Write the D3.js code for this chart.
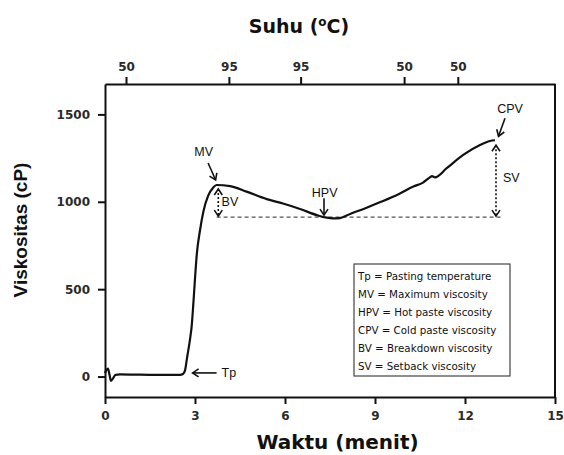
<!DOCTYPE html>
<html>
<head>
<meta charset="utf-8">
<script src="https://cdn.jsdelivr.net/npm/d3@7"></script>
<style>
  body { margin: 0; background: #fff; }
  svg { display: block; }
</style>
</head>
<body>
<div id="chart"></div>
<script>
// pasting curve: time (menit) and viscosity (cP)
let times = [0, 0.05, 0.1, 0.15, 0.2, 0.27, 0.35, 0.5, 1.0, 1.5, 2.0, 2.5, 2.6, 2.67, 2.74, 2.83, 2.89, 2.95, 3.0, 3.06, 3.17, 3.28, 3.44, 3.61, 3.72, 4.17, 4.72, 5.39, 5.93, 6.5, 7.06, 7.39, 7.6, 7.83, 8.17, 8.7, 9.2, 9.8, 10.28, 10.6, 10.83, 10.9, 11.0, 11.39, 11.94, 12.5, 12.83, 13.0];
let viscosity = [20, 38, 45, 10, -25, -10, 10, 12, 11, 10, 10, 10, 15, 37, 113, 209, 290, 430, 560, 700, 840, 945, 1035, 1082, 1096, 1090, 1058, 1015, 990, 959, 924, 909, 905, 907, 930, 965, 1000, 1045, 1087, 1110, 1140, 1147, 1140, 1192, 1268, 1325, 1348, 1352];

let xTicks = [0, 3, 6, 9, 12, 15];
let yTicks = [0, 500, 1000, 1500];
let tempTickTimes = [0.7, 4.13, 6.52, 9.97, 11.76];
let tempTickLabels = ["50", "95", "95", "50", "50"];

// key points: [time, viscosity]
let tp = [2.62, 15];
let mv = [3.72, 1096];
let hpv = [7.3, 912];
let cpv = [13.0, 1352];

let legendLines = [
    "Tp = Pasting temperature",
    "MV = Maximum viscosity",
    "HPV = Hot paste viscosity",
    "CPV = Cold paste viscosity",
    "BV = Breakdown viscosity",
    "SV = Setback viscosity"
];

let width = 564,
    height = 455;

let svg = d3.select("#chart")
    .append("svg")
    .attr("width", width)
    .attr("height", height);

let x = d3.scaleLinear().domain([0, 15]).range([105, 555]);
let y = d3.scaleLinear().domain([-117, 1674]).range([397, 84]);

let defs = svg.append("defs");
defs.append("marker")
    .attr("id", "head")
    .attr("viewBox", "-8 -5 10 10")
    .attr("refX", 0).attr("refY", 0)
    .attr("markerWidth", 10).attr("markerHeight", 10)
    .attr("markerUnits", "userSpaceOnUse")
    .attr("orient", "auto-start-reverse")
    .append("path")
    .attr("d", "M-6,-4 L0,0 L-6,4")
    .style("fill", "none")
    .style("stroke", "#111")
    .style("stroke-width", 1.6);

let tickFont = "'DejaVu Sans', sans-serif";

// bottom axis
let xAxis = svg.append("g")
    .attr("transform", "translate(0,397)")
    .call(d3.axisBottom(x).tickValues(xTicks).tickSize(7).tickSizeOuter(0).tickPadding(7));

// left axis
let yAxis = svg.append("g")
    .attr("transform", "translate(105,0)")
    .call(d3.axisLeft(y).tickValues(yTicks).tickSize(7).tickSizeOuter(0).tickPadding(8)
        .tickFormat(d3.format("d")));

// top axis with temperature
let topAxis = svg.append("g")
    .attr("transform", "translate(0,84)")
    .call(d3.axisTop(x).tickValues(tempTickTimes).tickSize(7).tickSizeOuter(0).tickPadding(6)
        .tickFormat(function(d, i) { return tempTickLabels[i]; }));

[xAxis, yAxis, topAxis].forEach(function(a) {
    a.select(".domain").style("stroke", "#111").style("stroke-width", 2);
    a.selectAll(".tick line").style("stroke", "#111").style("stroke-width", 2);
    a.selectAll(".tick text")
        .style("font-family", tickFont)
        .style("font-weight", "bold")
        .style("font-size", "12px")
        .style("fill", "#2a2a2a");
});

// right frame
svg.append("line")
    .attr("x1", x(15)).attr("x2", x(15))
    .attr("y1", y.range()[1]).attr("y2", y.range()[0])
    .style("stroke", "#111")
    .style("stroke-width", 2);

// dashed reference at hot paste level
svg.append("line")
    .attr("x1", x(mv[0])).attr("x2", x(13.2))
    .attr("y1", y(hpv[1])).attr("y2", y(hpv[1]))
    .style("stroke", "#555")
    .style("stroke-width", 1.2)
    .style("stroke-dasharray", "4,3");

// curve
let line = d3.line()
    .x(function(d) { return x(d[0]); })
    .y(function(d) { return y(d[1]); })
    .curve(d3.curveMonotoneX);

svg.append("path")
    .datum(times.map(function(t, i) { return [t, viscosity[i]]; }))
    .attr("d", line)
    .style("fill", "none")
    .style("stroke", "#111")
    .style("stroke-width", 2.2)
    .style("stroke-linejoin", "round");

// arrows and labels
function arrow(x1, y1, x2, y2, both) {
    let a = svg.append("line")
        .attr("x1", x1).attr("y1", y1)
        .attr("x2", x2).attr("y2", y2)
        .style("stroke", "#111")
        .style("stroke-width", 1.6)
        .attr("marker-end", "url(#head)");
    if (both) {
        a.attr("marker-start", "url(#head)")
            .style("stroke-dasharray", "2,2");
    }
}

function label(txt, px, py, anchor) {
    svg.append("text")
        .attr("x", px).attr("y", py)
        .attr("text-anchor", anchor || "middle")
        .style("font-family", "'Liberation Sans', Arial, sans-serif")
        .style("font-size", "12.5px")
        .style("fill", "#111")
        .text(txt);
}

// MV
arrow(x(mv[0]) - 8.5, y(mv[1]) - 22, x(mv[0]) - 1, y(mv[1]) - 5);
label("MV", x(mv[0]) - 13, y(mv[1]) - 29);
// BV
arrow(x(mv[0]) + 1.7, y(mv[1]) + 4, x(mv[0]) + 1.7, y(hpv[1]) - 1, true);
label("BV", x(mv[0]) + 5, y(mv[1]) + 21, "start");
// HPV
arrow(x(hpv[0]), y(hpv[1]) - 19, x(hpv[0]), y(hpv[1]) - 2);
label("HPV", x(hpv[0]) + 0.7, y(hpv[1]) - 20);
// CPV
arrow(x(cpv[0]) + 10, y(cpv[1]) - 22, x(cpv[0]) + 3.5, y(cpv[1]) - 4);
label("CPV", x(cpv[0]) + 15, y(cpv[1]) - 27);
// SV
arrow(x(cpv[0]) + 1, y(cpv[1]) + 5, x(cpv[0]) + 1, y(hpv[1]) - 1, true);
label("SV", x(cpv[0]) + 8, y(cpv[1]) + 42, "start");
// Tp
arrow(x(tp[0]) + 33, y(tp[1]) - 1, x(tp[0]) + 9, y(tp[1]) - 1);
label("Tp", x(tp[0]) + 38, y(tp[1]) + 3.5, "start");

// legend box
let legend = svg.append("g").attr("transform", "translate(354,264)");
legend.append("rect")
    .attr("width", 156).attr("height", 112)
    .style("fill", "#fff")
    .style("stroke", "#444")
    .style("stroke-width", 1.2);
legend.selectAll("text")
    .data(legendLines)
    .enter()
    .append("text")
    .attr("x", 4)
    .attr("y", function(d, i) { return 15.5 + i * 18; })
    .style("font-family", "'DejaVu Sans', sans-serif")
    .style("font-size", "10.3px")
    .style("fill", "#111")
    .text(function(d) { return d; });

// titles
let title = svg.append("text")
    .attr("x", 299).attr("y", 33)
    .attr("text-anchor", "middle")
    .style("font-family", tickFont)
    .style("font-weight", "bold")
    .style("font-size", "19px")
    .style("fill", "#111");
title.append("tspan").text("Suhu (");
title.append("tspan").attr("dy", -7).style("font-size", "12px").text("o");
title.append("tspan").attr("dy", 7).text("C)");

svg.append("text")
    .attr("x", 337.5).attr("y", 449)
    .attr("text-anchor", "middle")
    .style("font-family", tickFont)
    .style("font-weight", "bold")
    .style("font-size", "20px")
    .style("fill", "#111")
    .text("Waktu (menit)");

svg.append("text")
    .attr("transform", "translate(27,230) rotate(-90)")
    .attr("text-anchor", "middle")
    .style("font-family", "'Liberation Sans', Arial, sans-serif")
    .style("font-weight", "bold")
    .style("font-size", "19px")
    .style("fill", "#111")
    .text("Viskositas (cP)");
</script>
</body>
</html>
